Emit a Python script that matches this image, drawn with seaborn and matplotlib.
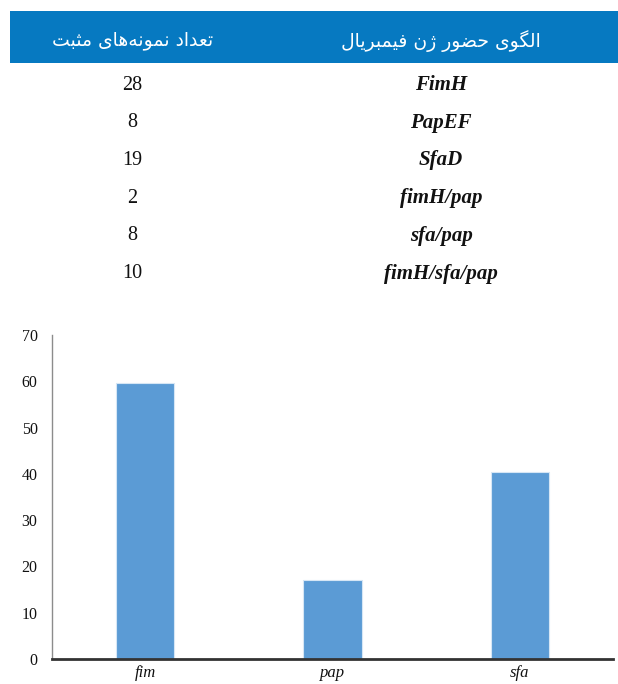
import numpy as np
import pandas as pd
import seaborn as sns
import matplotlib
matplotlib.use('Agg')
import matplotlib.pyplot as plt

# داده‌ها
header_count = 'تعداد نمونه\u200cهای مثبت'
header_pattern = 'الگوی حضور ژن فیمبریال'
patterns = ['FimH', 'PapEF', 'SfaD', 'fimH/pap', 'sfa/pap', 'fimH/sfa/pap']
counts = [28, 8, 19, 2, 8, 10]

genes = ['fim', 'pap', 'sfa']
percent = [59.7, 17.1, 40.5]

# شکل‌دهی ساده حروف فارسی (matplotlib خودش این کار را نمی‌کند)
FORMS = {
    'ا': ('\uFE8D', '\uFE8E', None, None),
    'ب': ('\uFE8F', '\uFE90', '\uFE91', '\uFE92'),
    'ت': ('\uFE95', '\uFE96', '\uFE97', '\uFE98'),
    'ث': ('\uFE99', '\uFE9A', '\uFE9B', '\uFE9C'),
    'ح': ('\uFEA1', '\uFEA2', '\uFEA3', '\uFEA4'),
    'د': ('\uFEA9', '\uFEAA', None, None),
    'ر': ('\uFEAD', '\uFEAE', None, None),
    'ژ': ('\uFB8A', '\uFB8B', None, None),
    'ض': ('\uFEBD', '\uFEBE', '\uFEBF', '\uFEC0'),
    'ع': ('\uFEC9', '\uFECA', '\uFECB', '\uFECC'),
    'ف': ('\uFED1', '\uFED2', '\uFED3', '\uFED4'),
    'گ': ('\uFB92', '\uFB93', '\uFB94', '\uFB95'),
    'ل': ('\uFEDD', '\uFEDE', '\uFEDF', '\uFEE0'),
    'م': ('\uFEE1', '\uFEE2', '\uFEE3', '\uFEE4'),
    'ن': ('\uFEE5', '\uFEE6', '\uFEE7', '\uFEE8'),
    'ه': ('\uFEE9', '\uFEEA', '\uFEEB', '\uFEEC'),
    'و': ('\uFEED', '\uFEEE', None, None),
    'ی': ('\uFBFC', '\uFBFD', '\uFBFE', '\uFBFF'),
}


def shape_fa(text):
    out = []
    for i, ch in enumerate(text):
        if ch not in FORMS:
            if ch != '\u200c':
                out.append(ch)
            continue
        prev = text[i - 1] if i > 0 else ''
        nxt = text[i + 1] if i + 1 < len(text) else ''
        join_prev = prev in FORMS and FORMS[prev][2] is not None
        join_next = FORMS[ch][2] is not None and nxt in FORMS
        iso, fin, ini, med = FORMS[ch]
        if join_prev and join_next:
            out.append(med)
        elif join_prev:
            out.append(fin)
        elif join_next:
            out.append(ini)
        else:
            out.append(iso)
    return ''.join(out)[::-1]


sns.set_theme(style='white')
plt.rcParams['font.family'] = ['Liberation Serif', 'DejaVu Sans']

fig = plt.figure(figsize=(6.18, 6.84), dpi=100)
W, H = 618, 684

# جدول بالا
row_y = np.arange(len(patterns))
r0, step = 82.5, 37.7
top_r, bot_r = (11 - r0) / step, 5.6
px_top = r0 + step * top_r
px_bot = r0 + step * bot_r
ax_t = fig.add_axes([10 / W, 1 - px_bot / H, 608 / W, (px_bot - px_top) / H])
ax_t.set_xlim(0, 1)
ax_t.set_ylim(bot_r, top_r)
ax_t.axis('off')
band_bot = (63 - r0) / step
ax_t.axhspan(top_r, band_bot, color='#0679C1', lw=0)
head_y = (41 - r0) / step
ax_t.text(0.201, head_y, shape_fa(header_count), color='white', fontsize=13.5,
          family='DejaVu Sans', ha='center', va='center')
ax_t.text(0.709, head_y, shape_fa(header_pattern), color='white', fontsize=13.5,
          family='DejaVu Sans', ha='center', va='center')
for r, c, p in zip(row_y, counts, patterns):
    ax_t.text(0.201, r, str(c), fontsize=14.5, ha='center', va='center_baseline',
              color='#111111')
    ax_t.text(0.709, r, p, fontsize=15, ha='center', va='center_baseline',
              fontweight='bold', fontstyle='italic', color='#111111')

# نمودار میله‌ای
df = pd.DataFrame({'gene': genes, 'value': percent})
ax = fig.add_axes([51.5 / W, 1 - 659 / H, 562 / W, 324 / H])
sns.barplot(data=df, x='gene', y='value', color='#5B9BD5', width=0.31,
            edgecolor='#d6e6f5', linewidth=0.8, saturation=1, ax=ax)
ax.set_ylim(0, 70)
ax.set_xlim(-0.5, 2.5)
ax.set_yticks(range(0, 71, 10))
ax.set_xlabel('')
ax.set_ylabel('')
ax.tick_params(axis='both', length=0, labelsize=11.5, colors='#111111')
ax.tick_params(axis='y', pad=10)
ax.tick_params(axis='x', pad=4)
for lab in ax.get_xticklabels():
    lab.set_fontstyle('italic')
    lab.set_fontsize(12)
sns.despine(ax=ax)
ax.spines['left'].set_color('#8c8c8c')
ax.spines['left'].set_linewidth(1)
ax.spines['bottom'].set_color('#333333')
ax.spines['bottom'].set_linewidth(2)

fig.savefig('out.png', dpi=100, facecolor='white')
